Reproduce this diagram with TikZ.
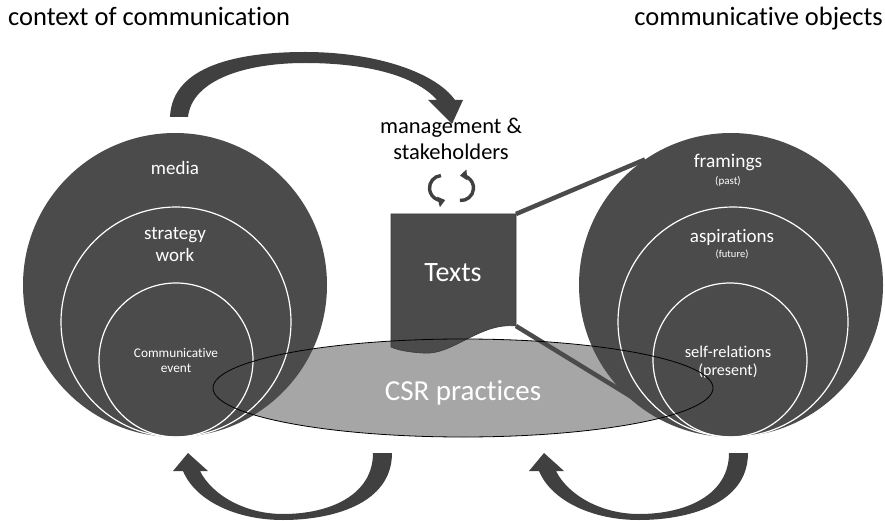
\documentclass[tikz,border=0pt]{standalone}
\usepackage{fontspec}
\setmainfont{Carlito}[Ligatures={NoCommon,NoRare,NoContextual},RawFeature={-liga;-clig;-dlig}]
\usetikzlibrary{arrows.meta}
\definecolor{disc}{HTML}{4B4B4B}
\definecolor{bandgray}{HTML}{404040}
\definecolor{practice}{HTML}{A6A6A6}
\definecolor{docedge}{HTML}{3A3A3A}
\newcommand{\fs}[1]{\fontsize{#1}{#1}\selectfont}
\begin{document}
\begin{tikzpicture}[x=1pt,y=-1pt,
  label/.style={inner sep=0pt, anchor=base},
  onwhite/.style={label, text=black},
  ondark/.style={label, text=white},
  ring/.style={draw=white, line width=1.2pt},
  band/.style={fill=bandgray},
  zoomline/.style={draw=disc, line width=4.5pt},
  cycle/.style={draw=bandgray, line width=3.4pt, -{Triangle[length=7pt,width=10.5pt]}}]
\useasboundingbox (0,0) rectangle (885,521);

% headings
\node[onwhite, anchor=base west, font=\fs{26.5}] (ctx) at (8,26) {context of communication};
\node[onwhite, anchor=base east, font=\fs{26.5}] (obj) at (883,26) {communicative objects};

% CSR practices: filled ellipse underneath everything
\coordinate (csr) at (463,388);
\fill[practice] (csr) ellipse [x radius=250, y radius=49];

% lines linking the document to the objects circle
\coordinate (doc-ne) at (516,214);
\coordinate (doc-se) at (516,326);
\coordinate (obj-top) at (645,159.5);
\coordinate (obj-low) at (635,399);
\draw[zoomline] (doc-ne) -- (obj-top);
\draw[zoomline] (doc-se) -- (obj-low);

% the document "Texts"
\filldraw[fill=disc, draw=docedge, line width=0.6pt]
  (391,214) -- (doc-ne) -- (doc-se)
  .. controls (480,322) and (452,356) .. (423,353)
  .. controls (405,352) and (395,349) .. (391,347) -- cycle;
\node[ondark, font=\fs{28}] (texts) at (453,281) {Texts};

% context of communication: nested circles
\coordinate (c1) at (175,285);
\coordinate (c2) at (176,322);
\coordinate (c3) at (176,360);
\fill[disc] (c1) circle (152);
\draw[ring] (c2) circle (115);
\draw[ring] (c3) circle (77);
\node[ondark, font=\fs{19}] (media) at (175,175) {media};
\node[ondark, font=\fs{19}] (strat1) at (175,240) {strategy};
\node[ondark, font=\fs{19}] (strat2) at (175,261) {work};
\node[ondark, font=\fs{13.3}] (event1) at (176,357) {Communicative};
\node[ondark, font=\fs{13.3}] (event2) at (176,372) {event};

% communicative objects: nested circles
\coordinate (o1) at (731,285);
\coordinate (o2) at (733,322);
\coordinate (o3) at (730,360);
\fill[disc] (o1) circle (152);
\draw[ring] (o2) circle (115);
\draw[ring] (o3) circle (77);
\node[ondark, font=\fs{19.4}] (fram) at (728,168) {framings};
\node[ondark, font=\fs{11}] (past) at (728,185) {(past)};
\node[ondark, font=\fs{19}] (aspi) at (732,243) {aspirations};
\node[ondark, font=\fs{10.5}] (future) at (732,257) {(future)};
\node[ondark, font=\fs{16.5}] (self) at (728,357) {self-relations};
\node[ondark, font=\fs{16}] (present) at (728,375) {(present)};

% outline of the CSR ellipse on top
\draw[black, line width=0.8pt] (csr) ellipse [x radius=250, y radius=49];
\node[ondark, font=\fs{29}] (csrlabel) at (463,400) {CSR practices};

% management & stakeholders
\node[onwhite, font=\fs{22.5}] (mgmt1) at (451,134) {management \&};
\node[onwhite, font=\fs{22.5}] (mgmt2) at (451,160) {stakeholders};

% exchange icon
\coordinate (cyl) at (442,188);
\coordinate (cyr) at (461,188);
\draw[cycle] ([shift={(265:12.5)}]cyl) arc [start angle=265, end angle=75, radius=12.5];
\draw[cycle] ([shift={(95:12.5)}]cyr) arc [start angle=95, end angle=-95, radius=12.5];

% curved arrow from context to management & stakeholders
\fill[band] (170,117) .. controls (172,65) and (240,52) .. (305,52)
  .. controls (375,52) and (435,72) .. (455,100)
  -- (463,100) -- (452,124) -- (428,100) -- (437,100)
  .. controls (415,75) and (365,63) .. (305,63)
  .. controls (245,63) and (192,80) .. (188,117) -- cycle;

% curved arrows underneath the two circles
\foreach \dx in {0, 356}{
  \begin{scope}[xshift=\dx]
  \fill[band] (392,453) .. controls (392,505) and (330,520) .. (283,520)
    .. controls (235,520) and (195,500) .. (183,471)
    -- (173,471) -- (188,453) -- (208,471) -- (200,471)
    .. controls (212,495) and (245,514) .. (283,514)
    .. controls (330,514) and (373,495) .. (373,453) -- cycle;
  \end{scope}
}
\end{tikzpicture}
\end{document}
